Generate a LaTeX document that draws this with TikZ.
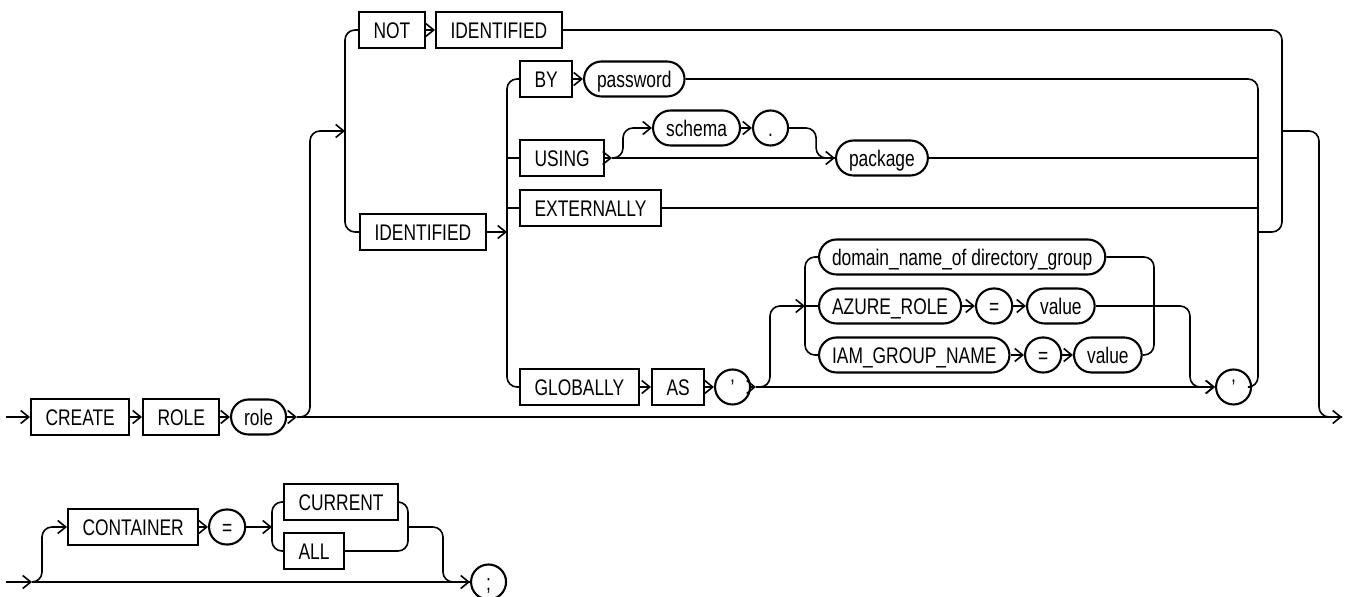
\documentclass[tikz,border=0pt]{standalone}
\usepackage{fontspec}
\newfontfamily\vasut{Liberation Sans}[FakeStretch=0.77]
\usetikzlibrary{arrows.meta,calc}
\tikzset{
  kulcs/.style={draw,line width=1.05pt,anchor=west,inner xsep=7.25pt,inner ysep=0pt,
                minimum height=18pt,text height=8.1pt,text depth=0pt},
  valt/.style={draw,line width=1.05pt,anchor=west,rounded corners=8.75pt,inner xsep=6.5pt,inner ysep=0pt,
               minimum height=17.5pt,minimum width=17.5pt,text height=8.1pt,text depth=0pt},
  nyil/.style={-{Straight Barb[length=4pt,width=6.5pt]}},
  ivelt/.style={rounded corners=5pt},
}
\begin{document}
\begin{tikzpicture}[x=0.5pt,y=-0.5pt,line width=0.8pt,font=\vasut\fontsize{11.3}{13}\selectfont]
  \useasboundingbox (0,0) rectangle (1348,597);
  % CREATE ROLE role
  \coordinate (s1) at (6,417);
  \node[kulcs] (create) at (30,417) {CREATE};
  \node[kulcs] (rolekw) at (142,417) {ROLE};
  \node[valt] (role) at (230,417) {role};
  \coordinate (a1) at (297,417);
  \coordinate (e1) at (1342,417);
  \coordinate (b1in) at (345,131);
  \coordinate (b1out) at (1282,131);
  % NOT IDENTIFIED | IDENTIFIED
  \node[kulcs] (notkw) at (358,30) {NOT};
  \node[kulcs] (identa) at (435,30) {IDENTIFIED};
  \node[kulcs] (identb) at (359,232) {IDENTIFIED};
  \coordinate (b2in) at (507,232);
  \coordinate (b2out) at (1258,232);
  % BY, USING, EXTERNALLY, GLOBALLY
  \node[kulcs] (bykw) at (519,79) {BY};
  \node[valt] (password) at (583,79) {password};
  \node[kulcs] (using) at (519,158) {USING};
  \coordinate (u1) at (612,158);
  \node[valt] (schema) at (652,128) {schema};
  \node[valt] (dot) at (752,128) {.};
  \node[valt] (package) at (835,158) {package};
  \node[kulcs] (ext) at (519,208) {EXTERNALLY};
  \node[kulcs] (glob) at (519,387) {GLOBALLY};
  \node[kulcs] (askw) at (651,387) {AS};
  \node[valt] (qa) at (714,387) {’};
  \coordinate (g1) at (756,387);
  \coordinate (g2in) at (805,306);
  \coordinate (g2out) at (1154,306);
  \node[valt] (domain) at (818,257) {domain\_name\_of directory\_group};
  \node[valt] (azure) at (818,306) {AZURE\_ROLE};
  \node[valt] (eqa) at (975,306) {=};
  \node[valt] (vala) at (1026,306) {value};
  \node[valt] (iam) at (818,355) {IAM\_GROUP\_NAME};
  \node[valt] (eqb) at (1024,355) {=};
  \node[valt] (valb) at (1073,355) {value};
  \node[valt] (qb) at (1215,387) {’};
  % CONTAINER
  \coordinate (s2) at (6,582);
  \coordinate (c1) at (32,582);
  \node[kulcs] (container) at (67,527) {CONTAINER};
  \node[valt] (eqc) at (208,527) {=};
  \coordinate (c2) at (272,527);
  \node[kulcs] (current) at (283,502) {CURRENT};
  \node[kulcs] (all) at (283,551) {ALL};
  \coordinate (c3) at (408,527);
  \node[valt] (semi) at (470,582) {;};

  % fo sor
  \draw[nyil] (s1) -- (create);
  \draw[nyil] (create) -- (rolekw);
  \draw[nyil] (rolekw) -- (role);
  \draw[nyil] (role) -- (a1);
  \draw[nyil] (a1) -- (e1);
  \draw[nyil,ivelt] (a1) -- ++(13,0) |- (b1in);
  \draw[ivelt] (notkw) -| (b1in) |- (identb);
  \draw[nyil] (notkw) -- (identa);
  \draw[ivelt] (identa) -| (b1out) |- (b2out);
  \draw[ivelt] (b1out) -- ++(37,0) |- (e1);
  \draw[nyil] (identb) -- (b2in);
  % IDENTIFIED ag
  \draw[ivelt] (bykw) -| (b2in) |- (glob);
  \draw (using) -- (using -| b2in);
  \draw (ext) -- (ext -| b2in);
  \draw[nyil] (bykw) -- (password);
  \draw[ivelt] (password) -| (b2out) |- (qb);
  \draw (package) -- (package -| b2out);
  \draw (ext) -- (ext -| b2out);
  % USING
  \draw[nyil] (using) -- (u1);
  \draw[nyil] (u1) -- (package);
  \draw[nyil,ivelt] (u1) -- ++(11,0) |- (schema);
  \draw[nyil] (schema) -- (dot);
  \draw[ivelt] (dot.east) -- ++(27,0) |- (package);
  % GLOBALLY
  \draw[nyil] (glob) -- (askw);
  \draw[nyil] (askw) -- (qa);
  \draw[nyil] (qa) -- (g1);
  \draw[nyil] (g1) -- (qb);
  \draw[nyil,ivelt] (g1) -- ++(14,0) |- (g2in);
  \draw[ivelt] (domain) -| (g2in) |- (iam);
  \draw (g2in) -- (azure);
  \draw[nyil] (azure) -- (eqa);
  \draw[nyil] (eqa) -- (vala);
  \draw[nyil] (iam) -- (eqb);
  \draw[nyil] (eqb) -- (valb);
  \draw[ivelt] (domain) -| (g2out) |- (valb);
  \draw (vala) -- (g2out);
  \draw[nyil,ivelt] (g2out) -- ++(36,0) |- (qb);
  % CONTAINER sor
  \draw[nyil] (s2) -- (c1);
  \draw[nyil] (c1) -- (semi);
  \draw[nyil,ivelt] (c1) -- ++(10,0) |- (container);
  \draw[nyil] (container) -- (eqc);
  \draw[nyil] (eqc) -- (c2);
  \draw[ivelt] (current) -| (c2) |- (all);
  \draw[ivelt] (current) -| (c3) |- (all);
  \draw[ivelt] (c3) -- ++(35,0) |- (semi);
\end{tikzpicture}
\end{document}
